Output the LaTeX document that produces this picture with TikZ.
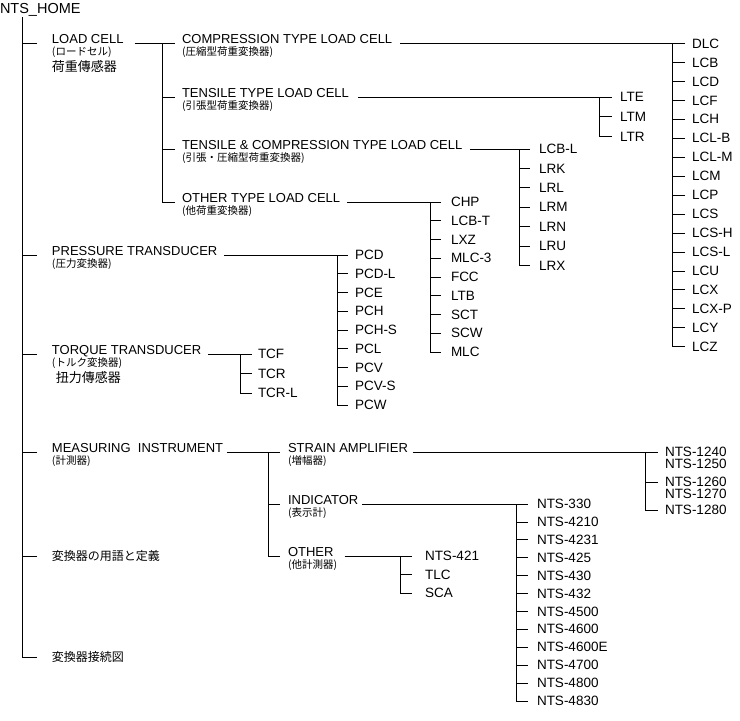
\documentclass[tikz,border=0pt]{standalone}
\usepackage{fontspec}
\setmainfont{Liberation Sans}
\newfontfamily\cjk{Noto Sans CJK JP}
\begin{document}
\begin{tikzpicture}[x=1pt,y=-1pt,
  every node/.style={inner sep=0pt,outer sep=0pt},
  hd/.style={anchor=base west,font=\fontsize{13}{15}\selectfont},
  sub/.style={anchor=base west,font=\cjk\fontsize{10.5}{12}\selectfont},
  big/.style={anchor=base west,font=\cjk\fontsize{13}{15}\selectfont},
  jp/.style={anchor=west,font=\cjk\fontsize{12}{14}\selectfont},
  leaf/.style={anchor=west,font=\fontsize{13.5}{15}\selectfont},
  ln/.style={line width=0.8pt}]
\useasboundingbox (0,0) rectangle (740,721);

% root and trunk
\node[anchor=base west,font=\fontsize{14.5}{16}\selectfont] (home) at (0,13) {NTS\_HOME};
\coordinate (t0) at (22,17);
\foreach \n/\y in {1/43.5,2/255,3/354,4/452,5/556,6/657} \coordinate (b\n) at (22,\y);
\draw[ln] (t0) -- (b6);

% level 1
\node[hd] (lc) at (52,43.5) {LOAD CELL};
\node[sub] (lcs) at (52,55.5) {(ロードセル)};
\node[big] (lcc) at (52,71.5) {荷重傳感器};
\node[hd] (pt) at (52,255) {PRESSURE TRANSDUCER};
\node[sub] (pts) at (52,267) {(圧力変換器)};
\node[hd] (tt) at (52,354) {TORQUE TRANSDUCER};
\node[sub] (tts) at (52,366) {(トルク変換器)};
\node[big] (ttc) at (56,382) {扭力傳感器};
\node[hd] (mi) at (52,452) {MEASURING~~INSTRUMENT};
\node[sub] (mis) at (52,464) {(計測器)};
\node[jp] (term) at (52,556) {変換器の用語と定義};
\node[jp] (conn) at (52,657) {変換器接続図};
\draw[ln] (b1) -- ([xshift=-15pt]lc.base west);
\draw[ln] (b2) -- ([xshift=-15pt]pt.base west);
\draw[ln] (b3) -- ([xshift=-15pt]tt.base west);
\draw[ln] (b4) -- ([xshift=-15pt]mi.base west);
\draw[ln] (b5) -- ([xshift=-15pt]term.west);
\draw[ln] (b6) -- ([xshift=-15pt]conn.west);

% LOAD CELL children
\foreach \n/\y in {0/43.5,1/97,2/149,3/202} \coordinate (lj\n) at (162,\y);
\node[hd] (cp) at (182,43.5) {COMPRESSION TYPE LOAD CELL};
\node[sub] at (182,55.5) {(圧縮型荷重変換器)};
\node[hd] (te) at (182,97) {TENSILE TYPE LOAD CELL};
\node[sub] at (182,109) {(引張型荷重変換器)};
\node[hd] (tc) at (182,149) {TENSILE \& COMPRESSION TYPE LOAD CELL};
\node[sub] at (182,161) {(引張・圧縮型荷重変換器)};
\node[hd] (ol) at (182,202) {OTHER TYPE LOAD CELL};
\node[sub] at (182,214) {(他荷重変換器)};
\draw[ln] ([xshift=11pt]lc.base east) -- (lj0) -- (lj3);
\draw[ln] (lj0) -- ([xshift=-7pt]cp.base west);
\draw[ln] (lj1) -- ([xshift=-7pt]te.base west);
\draw[ln] (lj2) -- ([xshift=-7pt]tc.base west);
\draw[ln] (lj3) -- ([xshift=-7pt]ol.base west);

% COMPRESSION leaves
\foreach \t [count=\i from 0] in {DLC,LCB,LCD,LCF,LCH,LCL-B,LCL-M,LCM,LCP,LCS,LCS-H,LCS-L,LCU,LCX,LCX-P,LCY,LCZ}{
  \coordinate (cj\i) at (672,43.5+18.95*\i);
  \node[leaf] (cl\i) at (692,43.5+18.95*\i) {\t};
  \draw[ln] (cj\i) -- ([xshift=-7pt]cl\i.west);
}
\draw[ln] ([xshift=8pt]cp.base east) -- (cj0) -- (cj16);

% TENSILE leaves
\foreach \t [count=\i from 0] in {LTE,LTM,LTR}{
  \coordinate (tj\i) at (599,97+19.7*\i);
  \node[leaf] (tl\i) at (620,97+19.7*\i) {\t};
  \draw[ln] (tj\i) -- ([xshift=-8pt]tl\i.west);
}
\draw[ln] ([xshift=9pt]te.base east) -- (tj0) -- (tj2);

% TENSILE & COMPRESSION leaves
\foreach \t [count=\i from 0] in {LCB-L,LRK,LRL,LRM,LRN,LRU,LRX}{
  \coordinate (xj\i) at (519,149+19.4*\i);
  \node[leaf] (xl\i) at (539,149+19.4*\i) {\t};
  \draw[ln] (xj\i) -- ([xshift=-9pt]xl\i.west);
}
\draw[ln] ([xshift=8pt]tc.base east) -- (xj0) -- (xj6);

% OTHER TYPE leaves
\foreach \t [count=\i from 0] in {CHP,LCB-T,LXZ,MLC-3,FCC,LTB,SCT,SCW,MLC}{
  \coordinate (oj\i) at (430,202+18.75*\i);
  \node[leaf] (ol\i) at (451,202+18.75*\i) {\t};
  \draw[ln] (oj\i) -- ([xshift=-10pt]ol\i.west);
}
\draw[ln] ([xshift=7pt]ol.base east) -- (oj0) -- (oj8);

% PRESSURE leaves
\foreach \t [count=\i from 0] in {PCD,PCD-L,PCE,PCH,PCH-S,PCL,PCV,PCV-S,PCW}{
  \coordinate (pj\i) at (337,255+18.75*\i);
  \node[leaf] (pl\i) at (355,255+18.75*\i) {\t};
  \draw[ln] (pj\i) -- ([xshift=-7pt]pl\i.west);
}
\draw[ln] ([xshift=7pt]pt.base east) -- (pj0) -- (pj8);

% TORQUE leaves
\foreach \t [count=\i from 0] in {TCF,TCR,TCR-L}{
  \coordinate (qj\i) at (240,354+19.5*\i);
  \node[leaf] (ql\i) at (258,354+19.5*\i) {\t};
  \draw[ln] (qj\i) -- ([xshift=-6pt]ql\i.west);
}
\draw[ln] ([xshift=7pt]tt.base east) -- (qj0) -- (qj2);

% MEASURING children
\foreach \n/\y in {0/452,1/504,2/556} \coordinate (mj\n) at (268,\y);
\node[hd] (sa) at (288,452) {STRAIN AMPLIFIER};
\node[sub] at (288,464) {(増幅器)};
\node[hd] (in) at (288,504) {INDICATOR};
\node[sub] at (288,516) {(表示計)};
\node[hd] (ot) at (288,556) {OTHER};
\node[sub] at (288,568) {(他計測器)};
\draw[ln] ([xshift=4pt]mi.base east) -- (mj0) -- (mj2);
\draw[ln] (mj0) -- ([xshift=-8pt]sa.base west);
\draw[ln] (mj1) -- ([xshift=-8pt]in.base west);
\draw[ln] (mj2) -- ([xshift=-8pt]ot.base west);

% STRAIN AMPLIFIER leaves
\foreach \n/\y/\t in {0/452/NTS-1240,1/482/NTS-1260,2/510/NTS-1280}{
  \coordinate (sj\n) at (645,\y);
  \node[leaf] (sl\n) at (665,\y) {\t};
  \draw[ln] (sj\n) -- ([xshift=-7pt]sl\n.west);
}
\node[leaf] (sl0b) at (665,464) {NTS-1250};
\node[leaf] (sl1b) at (665,494) {NTS-1270};
\draw[ln] ([xshift=5pt]sa.base east) -- (sj0) -- (sj2);

% INDICATOR leaves
\foreach \t [count=\i from 0] in {NTS-330,NTS-4210,NTS-4231,NTS-425,NTS-430,NTS-432,NTS-4500,NTS-4600,NTS-4600E,NTS-4700,NTS-4800,NTS-4830}{
  \coordinate (ij\i) at (516,504+17.9*\i);
  \node[leaf] (il\i) at (537,504+17.9*\i) {\t};
  \draw[ln] (ij\i) -- ([xshift=-9pt]il\i.west);
}
\draw[ln] ([xshift=4pt]in.base east) -- (ij0) -- (ij11);

% OTHER leaves
\foreach \t [count=\i from 0] in {NTS-421,TLC,SCA}{
  \coordinate (rj\i) at (400,556+18.5*\i);
  \node[leaf] (rl\i) at (425,556+18.5*\i) {\t};
  \draw[ln] (rj\i) -- ([xshift=-13pt]rl\i.west);
}
\draw[ln] ([xshift=11pt]ot.base east) -- (rj0) -- (rj2);
\end{tikzpicture}
\end{document}
